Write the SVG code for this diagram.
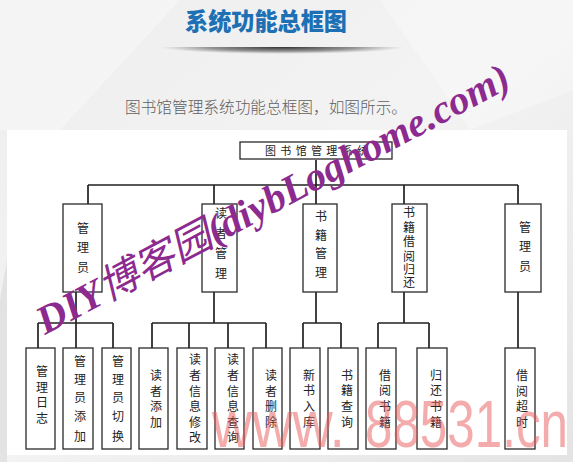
<svg xmlns="http://www.w3.org/2000/svg" width="573" height="462" viewBox="0 0 573 462">
<defs>
<linearGradient id="bg" x1="0" y1="0" x2="1" y2="1">
<stop offset="0" stop-color="#eeeeee"/><stop offset="0.5" stop-color="#f3f3f3"/><stop offset="1" stop-color="#e4e4e4"/>
</linearGradient>
<radialGradient id="sh" cx="0.5" cy="0.5" r="0.5">
<stop offset="0" stop-color="#1a1a1a" stop-opacity="0.9"/><stop offset="0.6" stop-color="#333" stop-opacity="0.5"/><stop offset="1" stop-color="#555" stop-opacity="0"/>
</radialGradient>
<clipPath id="shc"><rect x="0" y="47" width="573" height="20"/></clipPath>
<style>
.box{fill:#fff;stroke:#2a2a2a;stroke-width:1.3}
.conn{stroke:#222;stroke-width:1.7;fill:none}
.lbl{font-family:"Noto Sans CJK SC","Noto Sans CJK JP",sans-serif;font-size:12px;fill:#222;text-anchor:middle}
.root{font-family:"Noto Sans CJK SC",sans-serif;font-size:11px;fill:#222}
.wm1{font-family:"Liberation Serif","Noto Sans CJK SC",serif;font-weight:bold;font-style:italic;font-size:40px;fill:#8c2a8f}
.wm2{font-family:"Liberation Sans",sans-serif;font-size:66px;fill:#e85a5a;opacity:0.5}
</style>
</defs>
<rect x="0" y="0" width="573" height="462" fill="url(#bg)"/>
<polygon points="0,0 180,0 60,130 0,130" fill="#fff" opacity="0.35"/>
<polygon points="380,0 573,0 573,90 470,130" fill="#fff" opacity="0.3"/>
<polygon points="0,300 7,260 7,462 0,462" fill="#d8d8d8" opacity="0.6"/>
<!-- title -->
<text x="185" y="30" textLength="162" lengthAdjust="spacingAndGlyphs" font-family="'Noto Sans CJK SC',sans-serif" font-weight="900" font-size="24" fill="#1e70b5">系统功能总框图</text>
<ellipse cx="282" cy="47" rx="122" ry="7" fill="url(#sh)" clip-path="url(#shc)"/>
<text x="125" y="113" textLength="282" lengthAdjust="spacingAndGlyphs" font-family="'Noto Sans CJK SC',sans-serif" font-weight="300" font-size="16" fill="#606060">图书馆管理系统功能总框图，如图所示。</text>
<!-- panel -->
<rect x="7" y="130" width="560" height="325" fill="#fff"/>
<!-- connectors -->
<g id="connectors" class="conn">
<path d="M316,160V185M88,185H518M88,185V204M214,185V204M316,185V204M404,185V204M518,185V204"/>
<path d="M76,292V323M38,323H113M38,323V348M76,323V348M113,323V348"/>
<path d="M214,292V323M152,323H266M152,323V348M189,323V348M228,323V348M266,323V348"/>
<path d="M316,292V323M303,323H341M303,323V348M341,323V348"/>
<path d="M404,292V323M378,323H429M378,323V348M429,323V348"/>
<path d="M518,292V348"/>
</g>
<!-- root -->
<g id="root"><rect class="box" x="240" y="142" width="152" height="17"/><text class="root" x="265" y="155" textLength="103" lengthAdjust="spacing">图书馆管理系统</text></g>
<!-- level 1 -->
<g id="n_admin1"><rect class="box" x="63" y="204" width="39" height="88"/><text class="lbl"><tspan x="83" y="233">管</tspan><tspan x="83" y="252">理</tspan><tspan x="83" y="272">员</tspan></text></g>
<g id="n_reader"><rect class="box" x="202" y="204" width="35" height="88"/><text class="lbl"><tspan x="221" y="218">读</tspan><tspan x="221" y="238">者</tspan><tspan x="221" y="258">管</tspan><tspan x="221" y="278">理</tspan></text></g>
<g id="n_book"><rect class="box" x="303" y="204" width="34" height="88"/><text class="lbl"><tspan x="321" y="221">书</tspan><tspan x="321" y="240">籍</tspan><tspan x="321" y="258">管</tspan><tspan x="321" y="277">理</tspan></text></g>
<g id="n_borrow"><rect class="box" x="392" y="204" width="35" height="88"/><text class="lbl"><tspan x="409" y="217">书</tspan><tspan x="409" y="232">籍</tspan><tspan x="409" y="246">借</tspan><tspan x="409" y="261">阅</tspan><tspan x="409" y="274">归</tspan><tspan x="409" y="287">还</tspan></text></g>
<g id="n_admin2"><rect class="box" x="505" y="204" width="36" height="88"/><text class="lbl"><tspan x="525" y="232">管</tspan><tspan x="525" y="251">理</tspan><tspan x="525" y="271">员</tspan></text></g>
<!-- level 2 -->
<g id="n_log"><rect class="box" x="26" y="348" width="29" height="101"/><text class="lbl"><tspan x="42" y="376">管</tspan><tspan x="42" y="392">理</tspan><tspan x="42" y="407">日</tspan><tspan x="42" y="423">志</tspan></text></g>
<g id="n_adminadd"><rect class="box" x="63" y="348" width="30" height="101"/><text class="lbl"><tspan x="80" y="366">管</tspan><tspan x="80" y="384">理</tspan><tspan x="80" y="402">员</tspan><tspan x="80" y="421">添</tspan><tspan x="80" y="441">加</tspan></text></g>
<g id="n_adminsw"><rect class="box" x="102" y="348" width="29" height="101"/><text class="lbl"><tspan x="118" y="366">管</tspan><tspan x="118" y="384">理</tspan><tspan x="118" y="402">员</tspan><tspan x="118" y="421">切</tspan><tspan x="118" y="441">换</tspan></text></g>
<g id="n_readeradd"><rect class="box" x="139" y="348" width="29" height="101"/><text class="lbl"><tspan x="156" y="380">读</tspan><tspan x="156" y="396">者</tspan><tspan x="156" y="411">添</tspan><tspan x="156" y="427">加</tspan></text></g>
<g id="n_readermod"><rect class="box" x="177" y="348" width="30" height="101"/><text class="lbl"><tspan x="195" y="364">读</tspan><tspan x="195" y="380">者</tspan><tspan x="195" y="396">信</tspan><tspan x="195" y="411">息</tspan><tspan x="195" y="427">修</tspan><tspan x="195" y="442">改</tspan></text></g>
<g id="n_readerq"><rect class="box" x="215" y="348" width="29" height="101"/><text class="lbl"><tspan x="233" y="364">读</tspan><tspan x="233" y="380">者</tspan><tspan x="233" y="396">信</tspan><tspan x="233" y="411">息</tspan><tspan x="233" y="427">查</tspan><tspan x="233" y="442">询</tspan></text></g>
<g id="n_readerdel"><rect class="box" x="253" y="348" width="29" height="101"/><text class="lbl"><tspan x="271" y="380">读</tspan><tspan x="271" y="396">者</tspan><tspan x="271" y="411">删</tspan><tspan x="271" y="427">除</tspan></text></g>
<g id="n_newbook"><rect class="box" x="290" y="348" width="30" height="101"/><text class="lbl"><tspan x="309" y="380">新</tspan><tspan x="309" y="395">书</tspan><tspan x="309" y="411">入</tspan><tspan x="309" y="427">库</tspan></text></g>
<g id="n_bookq"><rect class="box" x="328" y="348" width="30" height="101"/><text class="lbl"><tspan x="347" y="380">书</tspan><tspan x="347" y="395">籍</tspan><tspan x="347" y="411">查</tspan><tspan x="347" y="427">询</tspan></text></g>
<g id="n_lend"><rect class="box" x="366" y="348" width="30" height="101"/><text class="lbl"><tspan x="385" y="380">借</tspan><tspan x="385" y="395">阅</tspan><tspan x="385" y="411">书</tspan><tspan x="385" y="427">籍</tspan></text></g>
<g id="n_return"><rect class="box" x="417" y="348" width="30" height="101"/><text class="lbl"><tspan x="436" y="380">归</tspan><tspan x="436" y="395">还</tspan><tspan x="436" y="411">书</tspan><tspan x="436" y="427">籍</tspan></text></g>
<g id="n_overdue"><rect class="box" x="505" y="348" width="30" height="101"/><text class="lbl"><tspan x="522" y="380">借</tspan><tspan x="522" y="396">阅</tspan><tspan x="522" y="411">超</tspan><tspan x="522" y="427">时</tspan></text></g>
<!-- watermarks -->
<text class="wm2" x="212" y="447" textLength="133" lengthAdjust="spacingAndGlyphs">www.</text>
<text class="wm2" x="365" y="447" textLength="203" lengthAdjust="spacingAndGlyphs">88531.cn</text>
<text class="wm1" x="45" y="335" transform="rotate(-28 45 335)" textLength="530" lengthAdjust="spacingAndGlyphs">DIY<tspan font-weight="normal">博客园</tspan>(diybLoghome.com)</text>
</svg>
